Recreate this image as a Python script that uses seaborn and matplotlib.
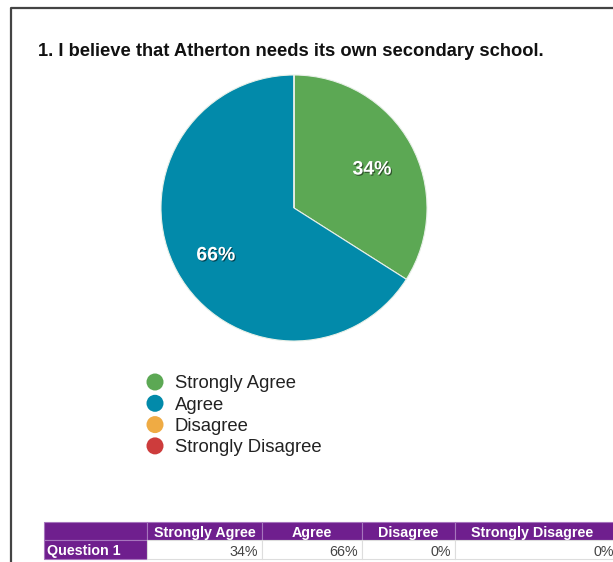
import matplotlib
matplotlib.use("Agg")
import matplotlib.pyplot as plt
import matplotlib.patheffects as pe
from matplotlib.patches import Rectangle
import seaborn as sns

sns.set_theme(style="white")
plt.rcParams["font.family"] = ["Liberation Sans", "DejaVu Sans"]

title = "1. I believe that Atherton needs its own secondary school."
categories = ["Strongly Agree", "Agree", "Disagree", "Strongly Disagree"]
values = [34, 66, 0, 0]
row_label = "Question 1"
colors = sns.color_palette(["#5ca854", "#028aaa", "#efab44", "#cd3c3c"])

W, H = 613, 562
fig = plt.figure(figsize=(W / 100, H / 100), dpi=100)
fig.patch.set_facecolor("white")

# overlay axes in pixel coordinates for frame, title, legend and table
ov = fig.add_axes([0, 0, 1, 1])
ov.set_xlim(0, W)
ov.set_ylim(H, 0)
ov.axis("off")

# page frame
ov.plot([11, 11, W + 5], [H + 5, 8, 8], color="#444444", lw=1.6, solid_capstyle="butt")

ov.text(38, 49, title, fontsize=13.2, fontweight="bold", color="#111111",
        ha="left", va="center_baseline")

# pie
cx, cy, r = 294, 208, 133
pax = fig.add_axes([(cx - r) / W, 1 - (cy + r) / H, 2 * r / W, 2 * r / H])
wedges, texts, autotexts = pax.pie(
    values, colors=colors, startangle=90, counterclock=False,
    autopct=lambda p: f"{p:.0f}%" if p > 0 else "", pctdistance=0.67,
    wedgeprops=dict(edgecolor="#e8f0e8", linewidth=0.8),
    textprops=dict(color="white", fontsize=14, fontweight="bold"),
)
for t in autotexts:
    t.set_va("center_baseline")
    px, py = t.get_position()
    t.set_position((px, py - 0.022))
    t.set_path_effects([pe.SimplePatchShadow(offset=(0.8, -0.8), shadow_rgbFace="black", alpha=0.5),
                        pe.Normal()])
pax.set_xlim(-1.0, 1.0)
pax.set_ylim(-1.0, 1.0)

# legend
ly0, ldy = 382, 21.3
for i, (cat, col) in enumerate(zip(categories, colors)):
    y = ly0 + i * ldy
    ov.scatter([155], [y], s=150, color=col, edgecolors="none")
    ov.text(175, y, cat, fontsize=13.3, color="#222222", ha="left", va="center_baseline")

# table
purple = "#6f1f8e"
xs = [44, 147, 262, 362, 455, W + 40]
y0, y1, y2 = 522, 540, 559
for i in range(5):
    ov.add_patch(Rectangle((xs[i], y0), xs[i + 1] - xs[i], y1 - y0,
                           facecolor=purple, edgecolor="#a675bd", lw=0.8))
ov.add_patch(Rectangle((xs[0], y1), xs[1] - xs[0], y2 - y1,
                       facecolor=purple, edgecolor="#a675bd", lw=0.8))
for i in range(1, 5):
    ov.add_patch(Rectangle((xs[i], y1), xs[i + 1] - xs[i], y2 - y1,
                           facecolor="white", edgecolor="#dddddd", lw=0.8))
for i, cat in enumerate(categories):
    right = min(xs[i + 2], W)
    ov.text((xs[i + 1] + right) / 2 if i < 3 else (xs[4] + 613) / 2 - 2, (y0 + y1) / 2 + 0.5,
            cat, fontsize=10.3, fontweight="bold", color="white", ha="center", va="center_baseline")
    ov.text(xs[i + 2] - 4 if i < 3 else 614, (y1 + y2) / 2 + 0.5, f"{values[i]}%",
            fontsize=10.3, color="#444444", ha="right", va="center_baseline")
ov.text(xs[0] + 3, (y1 + y2) / 2 + 0.5, row_label, fontsize=10.3, fontweight="bold",
        color="white", ha="left", va="center_baseline")

fig.savefig("out.png", dpi=100)
